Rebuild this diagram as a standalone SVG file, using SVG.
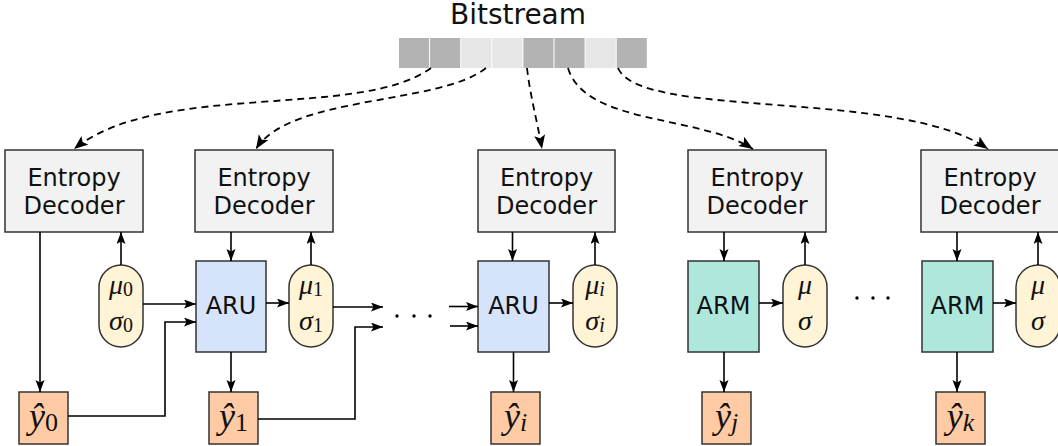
<svg xmlns="http://www.w3.org/2000/svg" width="1058" height="446" viewBox="0 0 1058 446">
  <style>
    .ed { fill: #f2f2f2; stroke: #333; stroke-width: 1.5; }
    .aru { fill: #d5e4fb; stroke: #333; stroke-width: 1.5; }
    .arm { fill: #aee8dc; stroke: #333; stroke-width: 1.5; }
    .pill { fill: #fff4d6; stroke: #333; stroke-width: 1.5; }
    .yh { fill: #fecba5; stroke: #333; stroke-width: 1.5; }
    .bit-d { fill: #b3b3b3; }
    .bit-l { fill: #e6e6e6; }
    .lbl { font-family: "DejaVu Sans", sans-serif; font-size: 24px; text-anchor: middle; fill: #111; }
    .math { font-family: "Liberation Serif", serif; font-style: italic; text-anchor: middle; fill: #111; }
    .pm { font-size: 28px; }
    .ym { font-size: 36px; }
    .up { font-style: normal; }
    .wire { fill: none; stroke: #000; stroke-width: 1.6; marker-end: url(#ah); }
    .dash { fill: none; stroke: #000; stroke-width: 1.8; stroke-dasharray: 7 5; marker-end: url(#ahb); }
  </style>
  <defs>
    <marker id="ah" markerUnits="userSpaceOnUse" markerWidth="13" markerHeight="10" refX="12" refY="4.5" orient="auto">
      <path d="M0,0 L12,4.5 L0,9 L2.5,4.5 z" fill="#000"/>
    </marker>
    <marker id="ahb" markerUnits="userSpaceOnUse" markerWidth="15" markerHeight="12" refX="14" refY="5.5" orient="auto">
      <path d="M0,0 L14,5.5 L0,11 L3,5.5 z" fill="#000"/>
    </marker>
  </defs>

  <!-- bitstream -->
  <g id="bitstream">
    <text class="lbl" x="518" y="24" style="font-size:28px">Bitstream</text>
    <rect class="bit-d" x="399" y="38" width="30.1" height="30"/>
    <rect class="bit-d" x="430.1" y="38" width="30.1" height="30"/>
    <rect class="bit-l" x="461.2" y="38" width="30.1" height="30"/>
    <rect class="bit-l" x="492.3" y="38" width="30.1" height="30"/>
    <rect class="bit-d" x="523.4" y="38" width="30.1" height="30"/>
    <rect class="bit-d" x="554.5" y="38" width="30.1" height="30"/>
    <rect class="bit-l" x="585.6" y="38" width="30.1" height="30"/>
    <rect class="bit-d" x="616.7" y="38" width="30.1" height="30"/>
  </g>

  <!-- entropy decoders -->
  <g id="ed0">
    <rect class="ed" x="5" y="150" width="138" height="82"/>
    <text class="lbl" x="74" y="186">Entropy</text>
    <text class="lbl" x="74" y="214">Decoder</text>
  </g>
  <g id="ed1">
    <rect class="ed" x="195" y="150" width="138" height="82"/>
    <text class="lbl" x="264" y="186">Entropy</text>
    <text class="lbl" x="264" y="214">Decoder</text>
  </g>
  <g id="edi">
    <rect class="ed" x="478" y="150" width="137" height="82"/>
    <text class="lbl" x="546.5" y="186">Entropy</text>
    <text class="lbl" x="546.5" y="214">Decoder</text>
  </g>
  <g id="edj">
    <rect class="ed" x="688" y="150" width="138" height="82"/>
    <text class="lbl" x="757" y="186">Entropy</text>
    <text class="lbl" x="757" y="214">Decoder</text>
  </g>
  <g id="edk">
    <rect class="ed" x="921" y="150" width="138" height="82"/>
    <text class="lbl" x="990" y="186">Entropy</text>
    <text class="lbl" x="990" y="214">Decoder</text>
  </g>

  <!-- autoregressive units / models -->
  <g id="aru1">
    <rect class="aru" x="196" y="261" width="70" height="91"/>
    <text class="lbl" x="231" y="314">ARU</text>
  </g>
  <g id="arui">
    <rect class="aru" x="478" y="261" width="71" height="91"/>
    <text class="lbl" x="513.5" y="314">ARU</text>
  </g>
  <g id="armj">
    <rect class="arm" x="688" y="261" width="71" height="91"/>
    <text class="lbl" x="723.5" y="314">ARM</text>
  </g>
  <g id="armk">
    <rect class="arm" x="922" y="261" width="71" height="91"/>
    <text class="lbl" x="957.5" y="314">ARM</text>
  </g>

  <!-- distribution parameters -->
  <g id="p0">
    <rect class="pill" x="99" y="265" width="44" height="82" rx="22" ry="22"/>
    <text class="math pm" x="121" y="294">μ<tspan class="up" font-size="20" dy="2">0</tspan></text>
    <text class="math pm" x="121" y="330">σ<tspan class="up" font-size="20" dy="2">0</tspan></text>
  </g>
  <g id="p1">
    <rect class="pill" x="289" y="265" width="44" height="82" rx="22" ry="22"/>
    <text class="math pm" x="311" y="294">μ<tspan class="up" font-size="20" dy="2">1</tspan></text>
    <text class="math pm" x="311" y="330">σ<tspan class="up" font-size="20" dy="2">1</tspan></text>
  </g>
  <g id="pi">
    <rect class="pill" x="573" y="265" width="44" height="82" rx="22" ry="22"/>
    <text class="math pm" x="595" y="294">μ<tspan font-size="20" dy="2">i</tspan></text>
    <text class="math pm" x="595" y="330">σ<tspan font-size="20" dy="2">i</tspan></text>
  </g>
  <g id="pj">
    <rect class="pill" x="783" y="265" width="44" height="82" rx="22" ry="22"/>
    <text class="math pm" x="805" y="294">μ</text>
    <text class="math pm" x="805" y="330">σ</text>
  </g>
  <g id="pk">
    <rect class="pill" x="1016" y="265" width="44" height="82" rx="22" ry="22"/>
    <text class="math pm" x="1038" y="294">μ</text>
    <text class="math pm" x="1038" y="330">σ</text>
  </g>

  <!-- decoded symbols -->
  <g id="y0">
    <rect class="yh" x="19" y="392" width="49" height="52"/>
    <text class="math ym" x="43.5" y="428">ŷ<tspan class="up" font-size="26" dy="3">0</tspan></text>
  </g>
  <g id="y1">
    <rect class="yh" x="209" y="392" width="49" height="52"/>
    <text class="math ym" x="233.5" y="428">ŷ<tspan class="up" font-size="26" dy="3">1</tspan></text>
  </g>
  <g id="yi">
    <rect class="yh" x="491" y="392" width="49" height="52"/>
    <text class="math ym" x="515.5" y="428">ŷ<tspan font-size="26" dy="3">i</tspan></text>
  </g>
  <g id="yj">
    <rect class="yh" x="702" y="392" width="49" height="52"/>
    <text class="math ym" x="726.5" y="428">ŷ<tspan font-size="26" dy="3">j</tspan></text>
  </g>
  <g id="yk">
    <rect class="yh" x="936" y="392" width="49" height="52"/>
    <text class="math ym" x="960.5" y="428">ŷ<tspan font-size="26" dy="3">k</tspan></text>
  </g>

  <!-- ellipses between stages -->
  <g id="dots">
    <circle cx="397" cy="316" r="1.7" fill="#000"/>
    <circle cx="414" cy="316" r="1.7" fill="#000"/>
    <circle cx="430" cy="316" r="1.7" fill="#000"/>
    <circle cx="857" cy="298" r="1.7" fill="#000"/>
    <circle cx="873" cy="298" r="1.7" fill="#000"/>
    <circle cx="888" cy="298" r="1.7" fill="#000"/>
  </g>

  <g id="connectors">
    <!-- bitstream to decoders -->
    <path class="dash" d="M431,68 C360,120 160,80 74,149"/>
    <path class="dash" d="M486,68 C440,105 290,95 256,149"/>
    <path class="dash" d="M527,68 C530,95 537,120 542,149"/>
    <path class="dash" d="M568,68 C585,125 700,115 753,149"/>
    <path class="dash" d="M618,68 C640,120 900,88 988,149"/>

    <!-- stage 0 -->
    <path class="wire" d="M40,232 V392"/>
    <path class="wire" d="M121,265 V232"/>
    <path class="wire" d="M143,304 H196"/>
    <path class="wire" d="M68,416 H165 V322 H196"/>

    <!-- stage 1 -->
    <path class="wire" d="M231,232 V261"/>
    <path class="wire" d="M266,303 H289"/>
    <path class="wire" d="M231,352 V392"/>
    <path class="wire" d="M311,265 V232"/>
    <path class="wire" d="M333,307 H383"/>
    <path class="wire" d="M258,419 H355 V327 H383"/>

    <!-- stage i -->
    <path class="wire" d="M449,306.5 H478"/>
    <path class="wire" d="M450,326 H478"/>
    <path class="wire" d="M512.5,232 V261"/>
    <path class="wire" d="M549,303 H573"/>
    <path class="wire" d="M513.5,352 V392"/>
    <path class="wire" d="M595,265 V232"/>

    <!-- stage j -->
    <path class="wire" d="M724,232 V261"/>
    <path class="wire" d="M759,303 H783"/>
    <path class="wire" d="M724,352 V392"/>
    <path class="wire" d="M805,265 V232"/>

    <!-- stage k -->
    <path class="wire" d="M957,232 V261"/>
    <path class="wire" d="M993,303 H1016"/>
    <path class="wire" d="M957,352 V392"/>
    <path class="wire" d="M1038,265 V232"/>
  </g>
</svg>
